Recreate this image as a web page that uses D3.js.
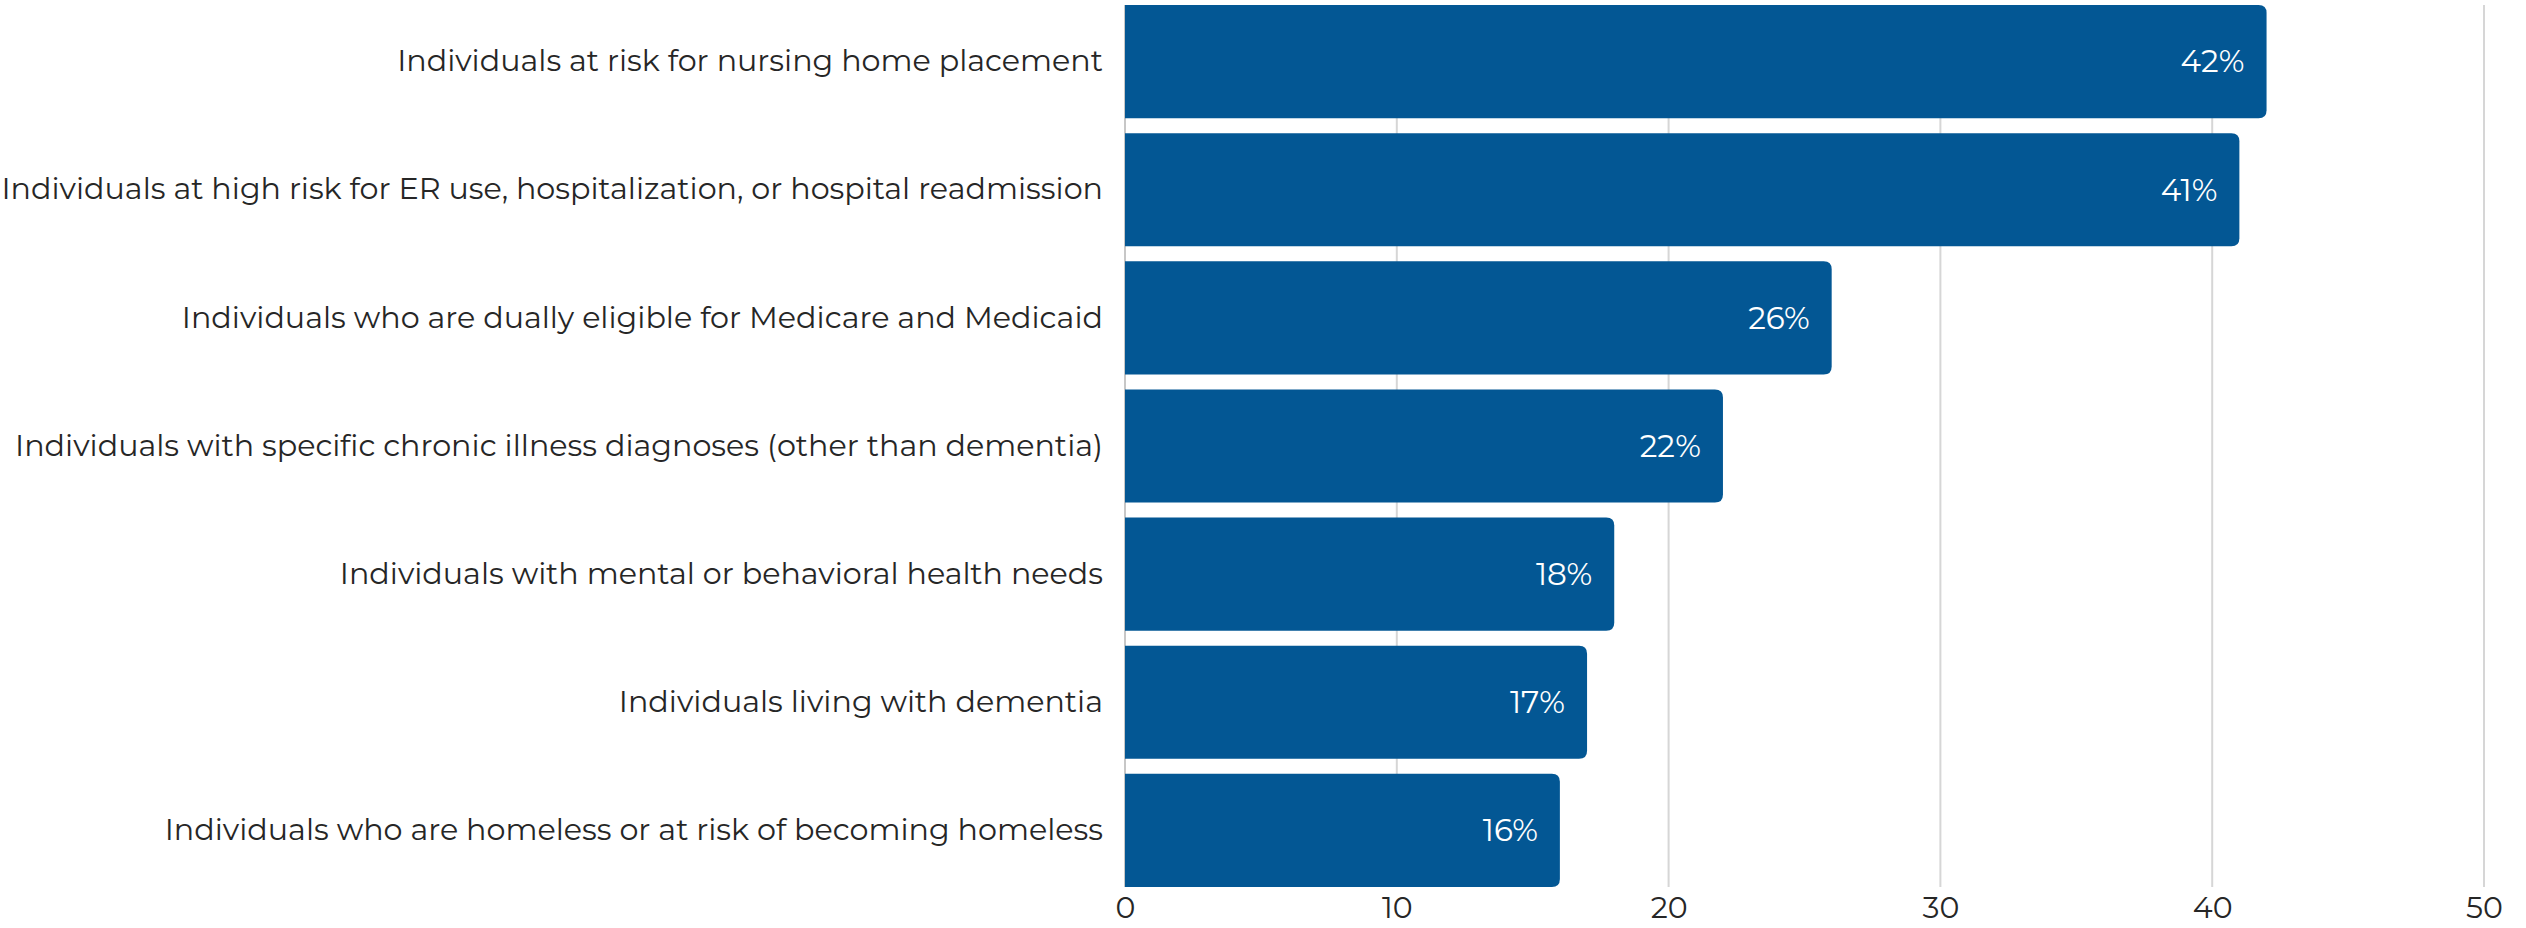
<!DOCTYPE html>
<html>
<head>
<meta charset="utf-8">
<script src="https://cdn.jsdelivr.net/npm/d3@7"></script>
<style>
  html, body { margin: 0; padding: 0; background: #ffffff; }
  svg { display: block; }
  text { font-family: Montserrat, "Open Sans", Lato, sans-serif; }
</style>
</head>
<body>
<svg id="chart" width="2526" height="928"></svg>
<script>
// Populations served, share of respondents (%)
const categories = [
  "Individuals at risk for nursing home placement",
  "Individuals at high risk for ER use, hospitalization, or hospital readmission",
  "Individuals who are dually eligible for Medicare and Medicaid",
  "Individuals with specific chronic illness diagnoses (other than dementia)",
  "Individuals with mental or behavioral health needs",
  "Individuals living with dementia",
  "Individuals who are homeless or at risk of becoming homeless"
];
const values = [42, 41, 26, 22, 18, 17, 16];
const xTicks = [0, 10, 20, 30, 40, 50];

const svg = d3.select("#chart");
const margin = { top: 5, right: 42, bottom: 41, left: 1125 };
const width = 2526, height = 928;

const x = d3.scaleLinear()
  .domain([0, 50])
  .range([margin.left, width - margin.right]);

const y = d3.scaleBand()
  .domain(categories)
  .range([margin.top, height - margin.bottom])
  .paddingInner(0.117)
  .paddingOuter(0);

// vertical gridlines
svg.append("g")
  .selectAll("line")
  .data(xTicks.filter(d => d > 0))
  .join("line")
  .attr("x1", d => x(d)).attr("x2", d => x(d))
  .attr("y1", margin.top).attr("y2", height - margin.bottom)
  .attr("stroke", "#d6d6d6")
  .attr("stroke-width", 2);

// baseline at zero
svg.append("line")
  .attr("x1", x(0)).attr("x2", x(0))
  .attr("y1", margin.top).attr("y2", height - margin.bottom)
  .attr("stroke", "#b5b5b5")
  .attr("stroke-width", 1.5);

// bars with rounded right ends
const r = 8;
svg.append("g")
  .selectAll("path")
  .data(values)
  .join("path")
  .attr("fill", "#035794")
  .attr("d", (d, i) => {
    const x0 = x(0), x1 = x(d);
    const y0 = y(categories[i]), h = y.bandwidth();
    return `M${x0},${y0}H${x1 - r}Q${x1},${y0} ${x1},${y0 + r}` +
           `V${y0 + h - r}Q${x1},${y0 + h} ${x1 - r},${y0 + h}H${x0}Z`;
  });

// value labels inside bars
svg.append("g")
  .selectAll("text")
  .data(values)
  .join("text")
  .attr("x", d => x(d) - 22)
  .attr("y", (d, i) => y(categories[i]) + y.bandwidth() / 2)
  .attr("dy", "0.35em")
  .attr("text-anchor", "end")
  .attr("fill", "#ffffff")
  .attr("font-size", 31)
  .text(d => d + "%");

// category labels
const yAxis = d3.axisLeft(y).tickSize(0).tickPadding(22);
const gy = svg.append("g")
  .attr("transform", `translate(${x(0)},0)`)
  .call(yAxis);
gy.select(".domain").remove();
gy.selectAll("text")
  .attr("font-size", 30.2)
  .attr("fill", "#262626")
  .style("font-family", 'Montserrat, "Open Sans", Lato, sans-serif');

// x axis tick labels
const xAxis = d3.axisBottom(x).tickValues(xTicks).tickSize(0).tickPadding(10);
const gx = svg.append("g")
  .attr("transform", `translate(0,${height - margin.bottom})`)
  .call(xAxis);
gx.select(".domain").remove();
gx.selectAll("text")
  .attr("font-size", 30)
  .attr("fill", "#262626")
  .style("font-family", 'Montserrat, "Open Sans", Lato, sans-serif');
</script>
</body>
</html>
